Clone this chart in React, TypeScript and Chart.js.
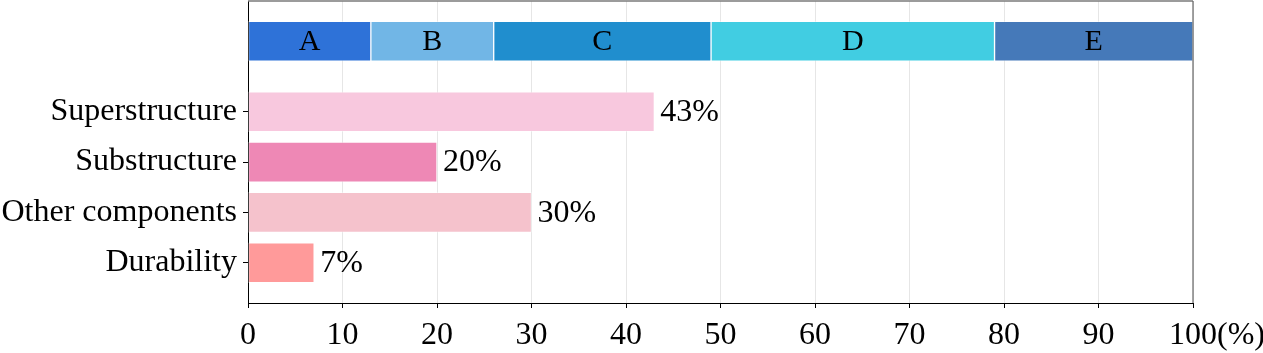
import React, { useEffect, useRef } from "react";
import { Chart, registerables } from "chart.js";

Chart.register(...registerables);

// ---- data ----
const categories = ["Superstructure", "Substructure", "Other components", "Durability"];
const shares = [43, 20, 30, 7];
const barColors = ["#F8C8DE", "#EE88B5", "#F5C2CC", "#FF9A9A"];

const segmentLabels = ["A", "B", "C", "D", "E"];
const segmentShares = [13, 13, 23, 30, 21];
const segmentColors = ["#2E72D8", "#71B6E6", "#208ECE", "#41CDE2", "#4579B9"];

const xTickValues = [0, 10, 20, 30, 40, 50, 60, 70, 80, 90, 100];
const xUnit = "(%)";

// ---- layout (not data) ----
const FONT = "'Liberation Serif', 'Times New Roman', serif";
const FS = 32;
const X_PAD = 8;
const SUMMARY_ROW = -0.4;
const Y_MIN = -1.2;
const Y_MAX = 4.8;

const labelPlugin = {
  id: "labels",
  afterDatasetsDraw(chart: any) {
    const ctx = chart.ctx;
    ctx.save();
    ctx.fillStyle = "#000";
    segmentLabels.forEach((lab, i) => {
      const meta = chart.getDatasetMeta(i);
      const bar: any = meta.data[0];
      if (!bar) return;
      ctx.font = `30px ${FONT}`;
      ctx.textAlign = "center";
      ctx.textBaseline = "middle";
      ctx.fillText(lab, (bar.x + bar.base) / 2, bar.y + 1);
    });
    const mainMeta = chart.getDatasetMeta(segmentLabels.length);
    mainMeta.data.forEach((bar: any, i: number) => {
      ctx.font = `${FS}px ${FONT}`;
      ctx.textAlign = "left";
      ctx.textBaseline = "middle";
      ctx.fillText(`${shares[i]}%`, bar.x + 6, bar.y + 1);
    });
    ctx.restore();
  },
  afterDraw(chart: any) {
    const ctx = chart.ctx;
    const { left, right, top, bottom } = chart.chartArea;
    ctx.save();
    ctx.strokeStyle = "#7a7a7a";
    ctx.lineWidth = 1.5;
    ctx.beginPath();
    ctx.moveTo(left, top);
    ctx.lineTo(right, top);
    ctx.stroke();
    ctx.strokeStyle = "#666";
    ctx.lineWidth = 1.2;
    ctx.beginPath();
    ctx.moveTo(right, top);
    ctx.lineTo(right, bottom);
    ctx.stroke();
    const xs = chart.scales.x;
    const lastVal = xTickValues[xTickValues.length - 1];
    ctx.font = `${FS}px ${FONT}`;
    const w = ctx.measureText(String(lastVal)).width;
    const px = xs.getPixelForValue(lastVal) + w / 2;
    const py = xs.top + 5 + X_PAD + (FS * 1.2) / 2;
    ctx.fillStyle = "#000";
    ctx.textAlign = "left";
    ctx.textBaseline = "middle";
    ctx.fillText(xUnit, px, py);
    ctx.restore();
  },
};

export default function App() {
  const ref = useRef<HTMLCanvasElement | null>(null);

  useEffect(() => {
    if (!ref.current) return;
    const datasets: any[] = segmentLabels.map((lab, i) => ({
      label: lab,
      data: [{ x: segmentShares[i], y: SUMMARY_ROW }],
      backgroundColor: segmentColors[i],
      borderColor: "rgba(255,255,255,0.35)",
      borderWidth: 1,
      borderSkipped: false,
      barThickness: 40,
      grouped: false,
      stack: "summary",
    }));
    datasets.push({
      label: "share",
      data: categories.map((c, i) => ({ x: shares[i], y: i + 1 })),
      backgroundColor: barColors,
      borderColor: "rgba(255,255,255,0.35)",
      borderWidth: 1,
      borderSkipped: false,
      barThickness: 40,
      grouped: false,
      stack: "main",
    });

    const chart = new Chart(ref.current, {
      type: "bar",
      data: { datasets },
      plugins: [labelPlugin],
      options: {
        indexAxis: "y",
        animation: false,
        responsive: false,
        devicePixelRatio: 1,
        layout: { padding: { top: 1, right: 70, left: 0, bottom: 0 } },
        plugins: { legend: { display: false }, tooltip: { enabled: false } },
        scales: {
          x: {
            type: "linear",
            min: 0,
            max: 100,
            stacked: true,
            afterBuildTicks: (s: any) => {
              s.ticks = xTickValues.map((v) => ({ value: v }));
            },
            afterFit: (s: any) => {
              s.height = 50;
              s.paddingLeft = 0;
              s.paddingRight = 0;
            },
            ticks: {
              color: "#000",
              font: { family: FONT, size: FS },
              padding: X_PAD,
              maxRotation: 0,
              autoSkip: false,
            },
            grid: { color: "#e6e6e6", tickColor: "#000", tickLength: 5, lineWidth: 1, offset: false },
            border: { color: "#000", width: 1 },
          },
          y: {
            type: "linear",
            min: Y_MIN,
            max: Y_MAX,
            reverse: true,
            offset: false,
            afterBuildTicks: (s: any) => {
              s.ticks = categories.map((_, i) => ({ value: i + 1 }));
            },
            afterFit: (s: any) => {
              s.width = 248;
              s.paddingTop = 0;
              s.paddingBottom = 0;
            },
            ticks: {
              color: "#000",
              font: { family: FONT, size: FS },
              padding: 6,
              autoSkip: false,
              callback: (v: any) => categories[Number(v) - 1] ?? "",
            },
            grid: { display: true, drawOnChartArea: false, offset: false, tickColor: "#000", tickLength: 5 },
            border: { color: "#000", width: 1 },
          },
        },
      },
    } as any);
    return () => chart.destroy();
  }, []);

  return (
    <div style={{ position: "absolute", left: 0, top: 0, width: 1263, height: 353, background: "#fff" }}>
      <canvas ref={ref} width={1263} height={353} style={{ display: "block" }} />
    </div>
  );
}
